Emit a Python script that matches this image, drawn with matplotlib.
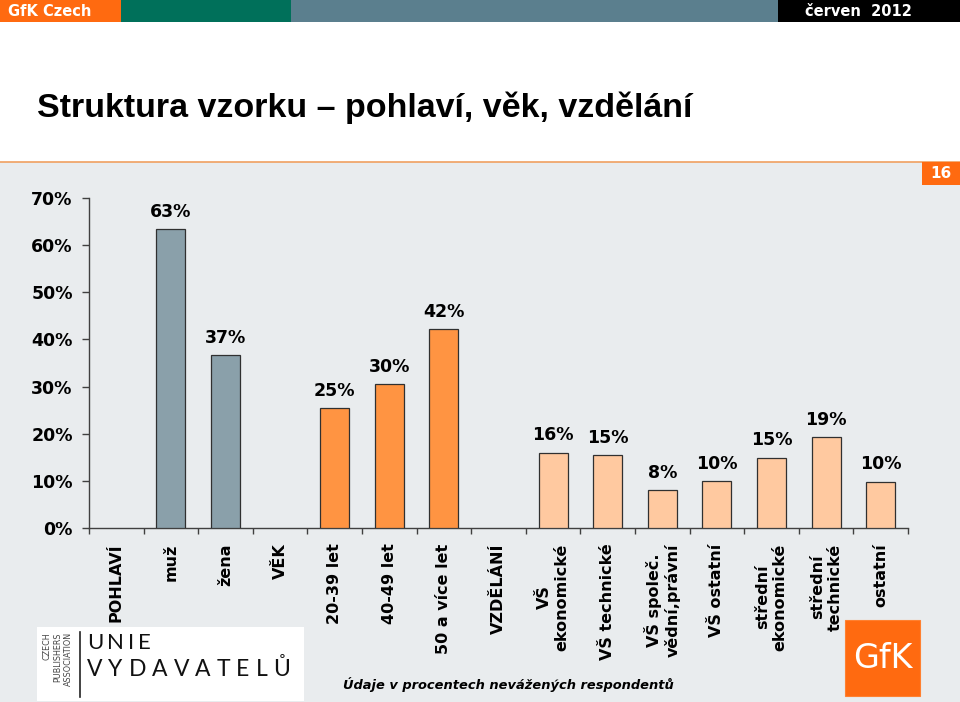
import matplotlib
matplotlib.use("Agg")
import matplotlib.pyplot as plt
from matplotlib.patches import Rectangle
import numpy as np

categories = ["POHLAVÍ", "muž", "žena", "VĚK", "20-39 let", "40-49 let",
              "50 a více let", "VZDĚLÁNÍ", "VŠ\nekonomické", "VŠ technické",
              "VŠ společ.\nvědní,právní", "VŠ ostatní", "střední\nekonomické",
              "střední\ntechnické", "ostatní"]
values = [None, 63.4, 36.6, None, 25.4, 30.5, 42.2, None,
          16.0, 15.4, 8.0, 10.0, 14.9, 19.3, 9.8]
groups = ["h", "g", "g", "h", "a", "a", "a", "h", "e", "e", "e", "e", "e", "e", "e"]
group_colors = {"g": "#8AA0AA", "a": "#FF9442", "e": "#FFC9A0"}
yticks = [0, 10, 20, 30, 40, 50, 60, 70]

W, H = 960, 702
fig = plt.figure(figsize=(W / 100, H / 100), dpi=100)
fig.patch.set_facecolor("white")
renderer = fig.canvas.get_renderer()

def fx(px):
    return px / W

def fy(py):
    return 1 - py / H

def spaced_text(x_px, y_px, s, gap_px, **kw):
    xpos = x_px
    for ch in s:
        t = fig.text(fx(xpos), fy(y_px), ch, ha="left", va="baseline", **kw)
        bb = t.get_window_extent(renderer=renderer)
        xpos += bb.width + gap_px

# grey slide background
fig.patches.append(Rectangle((0, 0), 1, fy(162), transform=fig.transFigure,
                             facecolor="#E9ECEE", edgecolor="none", zorder=0))
fig.lines.append(plt.Line2D([0, 1], [fy(162), fy(162)], transform=fig.transFigure,
                            color="#F0A060", lw=1.2, zorder=1))
# header bar
for x0, x1, c in [(0, 121, "#FF6A10"), (121, 291, "#00705A"),
                  (291, 778, "#5B7F8E"), (778, 960, "#000000")]:
    fig.patches.append(Rectangle((fx(x0), fy(22)), fx(x1 - x0), 22 / H,
                                 transform=fig.transFigure, facecolor=c,
                                 edgecolor="none", zorder=1))
fig.text(fx(8), fy(12), "GfK Czech", color="white", fontsize=10.5,
         fontweight="bold", family="DejaVu Sans", va="center", ha="left")
fig.text(fx(912), fy(12), "červen  2012", color="white", fontsize=10.5,
         fontweight="bold", family="DejaVu Sans", va="center", ha="right")

# title
fig.text(fx(37), fy(117.5), "Struktura vzorku – pohlaví, věk, vzdělání",
         fontsize=24.5, fontweight="bold", family="Liberation Sans",
         va="baseline", ha="left", color="black")

# page number box
fig.patches.append(Rectangle((fx(922), fy(185)), fx(38), 23 / H,
                             transform=fig.transFigure, facecolor="#FF6A10",
                             edgecolor="none", zorder=2))
fig.text(fx(941), fy(173.5), "16", color="white", fontsize=11,
         fontweight="bold", family="DejaVu Sans", va="center", ha="center", zorder=3)

# axes
ax = fig.add_axes([fx(89), fy(528), fx(908 - 89), (528 - 198) / H])
ax.set_zorder(5)
ax.set_facecolor("none")
x = np.arange(len(categories))
for xi, v, g in zip(x, values, groups):
    if v is None:
        continue
    ax.bar(xi, v, width=0.53, color=group_colors[g], edgecolor="#303030",
           linewidth=0.9, zorder=3)
    ax.annotate(f"{v:.0f}%", (xi, v), xytext=(0, 6), textcoords="offset points",
                ha="center", va="bottom", fontsize=12.5, fontweight="bold",
                family="DejaVu Sans")

ax.set_xlim(-0.5, len(categories) - 0.5)
ax.set_ylim(0, 70)
ax.set_yticks(yticks)
ax.set_yticklabels([f"{t}%" for t in yticks], fontsize=12.5, fontweight="bold",
                   family="DejaVu Sans")
ax.set_xticks(np.arange(-0.5, len(categories), 1.0))
ax.set_xticklabels([])
ax.set_xticks(x, minor=True)
ax.set_xticklabels(categories, minor=True, rotation=90, fontsize=11.5,
                   fontweight="bold", family="DejaVu Sans")
ax.tick_params(axis="x", which="minor", length=0, pad=11)
ax.tick_params(axis="x", which="major", length=4.5, width=1, color="#404040",
               direction="out")
ax.tick_params(axis="y", length=4.7, width=1, color="#404040", pad=7)
for s in ["top", "right"]:
    ax.spines[s].set_visible(False)
for s in ["left", "bottom"]:
    ax.spines[s].set_color("#404040")
    ax.spines[s].set_linewidth(1)

# footnote
fig.text(fx(508), fy(685), "Údaje v procentech nevážených respondentů",
         fontsize=9.4, fontweight="bold", style="italic", family="DejaVu Sans",
         ha="center", va="center", zorder=6)

# Unie vydavatelů logo
fig.patches.append(Rectangle((fx(37), fy(701)), fx(304 - 37), (701 - 627) / H,
                             transform=fig.transFigure, facecolor="white",
                             edgecolor="none", zorder=2))
fig.lines.append(plt.Line2D([fx(80), fx(80)], [fy(632), fy(697)],
                            transform=fig.transFigure, color="#222222", lw=1.2, zorder=3))
for xp, t in zip([47, 58, 68], ["CZECH", "PUBLISHERS", "ASSOCIATION"]):
    fig.text(fx(xp), fy(632), t, rotation=90, fontsize=5.8,
             family="DejaVu Sans", color="#444444", ha="center", va="top", zorder=3)
spaced_text(87, 649, "UNIE", 4.0, fontsize=16, family="Lato",
            fontweight="normal", color="#111111", zorder=3)
spaced_text(87, 676, "VYDAVATELŮ", 6.0, fontsize=16.5, family="Lato",
            fontweight="normal", color="#111111", zorder=3)

# GfK logo
fig.patches.append(Rectangle((fx(845), fy(696)), fx(75), (696 - 620) / H,
                             transform=fig.transFigure, facecolor="#FF6A10",
                             edgecolor="#FF8030", lw=0.8, zorder=2))
fig.text(fx(882.5), fy(659), "GfK", fontsize=24, family="DejaVu Sans",
         color="white", ha="center", va="center", zorder=3)

fig.savefig("out.png", dpi=100)
